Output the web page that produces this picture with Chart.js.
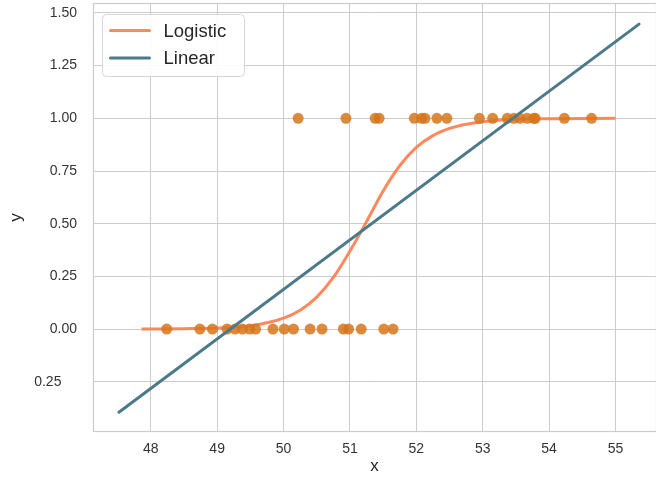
<!DOCTYPE html>
<html>
<head>
<meta charset="utf-8">
<script src="https://cdn.jsdelivr.net/npm/chart.js@4/dist/chart.umd.min.js"></script>
<style>
  html, body { margin: 0; padding: 0; background: #ffffff; }
  #wrap { width: 656px; height: 480px; }
</style>
</head>
<body>
<div id="wrap"><canvas id="c" width="656" height="480"></canvas></div>
<script>
// Axis ticks
const xTicks = [48, 49, 50, 51, 52, 53, 54, 55];
const yTicks = [-0.25, 0, 0.25, 0.5, 0.75, 1, 1.25, 1.5];

// Observations: x values of the samples in class 0 and class 1
const class0X = [48.24, 48.74, 48.93, 49.15, 49.27, 49.38, 49.49, 49.58, 49.84, 50.01,
                 50.15, 50.40, 50.58, 50.90, 50.98, 51.17, 51.51, 51.65];
const class1X = [50.22, 50.94, 51.38, 51.44, 51.97, 52.08, 52.13, 52.31, 52.46, 52.95,
                 53.15, 53.37, 53.47, 53.56, 53.67, 53.77, 53.79, 54.23, 54.64];

// Fitted logistic curve
const logisticX = [47.86, 48.5, 49.0, 49.5, 49.75, 50.0, 50.25, 50.5, 50.75, 51.0,
                   51.25, 51.5, 51.75, 52.0, 52.25, 52.5, 52.75, 53.0, 53.5, 54.0, 55.0];
const logisticY = [0.000, 0.002, 0.005, 0.016, 0.030, 0.052, 0.090, 0.152, 0.245, 0.370,
                   0.510, 0.655, 0.775, 0.862, 0.918, 0.952, 0.972, 0.984, 0.995, 0.998, 1.000];

// Fitted linear model (end points)
const linearX = [47.52, 55.355];
const linearY = [-0.394, 1.447];

const seriesNames = ['Logistic', 'Linear'];
const FONT = 'Liberation Sans, Arial, Helvetica, sans-serif';
const COL_LOGISTIC = 'rgba(255,127,80,0.92)';
const COL_LINEAR = '#4b7a8b';
const COL_POINTS = 'rgba(214,118,28,0.85)';

const toXY = (xs, ys) => xs.map((x, i) => ({ x: x, y: ys[i] }));
const observations = class0X.map(x => ({ x: x, y: 0 }))
  .concat(class1X.map(x => ({ x: x, y: 1 })));

// keep the plotting area fixed: no extra room reserved for overhanging labels
const noOverhang = s => {
  s.paddingTop = 0; s.paddingBottom = 0; s.paddingLeft = 0; s.paddingRight = 0;
};

// light grey frame around the plotting area
const frame = {
  id: 'frame',
  beforeDatasetsDraw(chart) {
    const { ctx, chartArea: a } = chart;
    ctx.save();
    ctx.strokeStyle = '#cccccc';
    ctx.lineWidth = 1.2;
    ctx.strokeRect(a.left + 0.5, a.top + 0.5, a.right - a.left, a.bottom - a.top - 1);
    ctx.restore();
  }
};

// legend box in the upper-left corner of the plot
const legendBox = {
  id: 'legendBox',
  afterDatasetsDraw(chart) {
    const { ctx, chartArea: a } = chart;
    const left = a.left + 9.5, top = a.top + 11.5, w = 142, h = 62, r = 4;
    ctx.save();
    ctx.beginPath();
    ctx.roundRect(left, top, w, h, r);
    ctx.fillStyle = 'rgba(255,255,255,0.9)';
    ctx.fill();
    ctx.strokeStyle = '#d6d6d6';
    ctx.lineWidth = 1;
    ctx.stroke();
    const items = [
      { label: seriesNames[0], color: COL_LOGISTIC, dy: 16 },
      { label: seriesNames[1], color: COL_LINEAR, dy: 43.5 }
    ];
    ctx.font = '18.5px ' + FONT;
    ctx.textBaseline = 'middle';
    ctx.textAlign = 'left';
    items.forEach(it => {
      ctx.beginPath();
      ctx.strokeStyle = it.color;
      ctx.lineWidth = 3;
      ctx.lineCap = 'round';
      ctx.moveTo(left + 8, top + it.dy);
      ctx.lineTo(left + 47, top + it.dy);
      ctx.stroke();
      ctx.fillStyle = '#262626';
      ctx.fillText(it.label, left + 61, top + it.dy + 1);
    });
    ctx.restore();
  }
};

new Chart(document.getElementById('c'), {
  type: 'scatter',
  data: {
    datasets: [
      {
        label: seriesNames[0],
        type: 'line',
        data: toXY(logisticX, logisticY),
        borderColor: COL_LOGISTIC,
        borderWidth: 3,
        pointRadius: 0,
        fill: false,
        cubicInterpolationMode: 'monotone',
        order: 2
      },
      {
        label: seriesNames[1],
        type: 'line',
        data: toXY(linearX, linearY),
        borderColor: COL_LINEAR,
        borderWidth: 3,
        borderCapStyle: 'round',
        pointRadius: 0,
        fill: false,
        order: 0
      },
      {
        label: 'data',
        data: observations,
        backgroundColor: COL_POINTS,
        borderWidth: 0,
        pointRadius: 5.5,
        order: 1
      }
    ]
  },
  options: {
    responsive: false,
    animation: false,
    devicePixelRatio: 1,
    layout: { autoPadding: false, padding: { top: 3, right: 0, bottom: 0, left: 0 } },
    plugins: { legend: { display: false }, tooltip: { enabled: false } },
    scales: {
      x: {
        type: 'linear',
        min: 47.13,
        max: 55.61,
        afterBuildTicks: s => { s.ticks = xTicks.map(v => ({ value: v })); },
        afterFit: s => { s.height = 48; noOverhang(s); },
        grid: { color: '#cccccc', lineWidth: 1, drawTicks: false },
        border: { display: false },
        ticks: {
          padding: 9,
          maxRotation: 0,
          autoSkip: false,
          color: '#333333',
          font: { family: FONT, size: 14 },
          callback: v => String(v)
        },
        title: {
          display: true,
          text: 'x',
          color: '#262626',
          font: { family: FONT, size: 17 },
          padding: { top: 0, bottom: 3 }
        }
      },
      y: {
        type: 'linear',
        min: -0.488,
        max: 1.547,
        afterBuildTicks: s => { s.ticks = yTicks.map(v => ({ value: v })); },
        afterFit: s => { s.width = 93; noOverhang(s); },
        grid: { color: '#cccccc', lineWidth: 1, drawTicks: false },
        border: { display: false },
        ticks: {
          padding: 16,
          autoSkip: false,
          color: '#333333',
          font: { family: FONT, size: 14 },
          callback: v => v < 0 ? Math.abs(v).toFixed(2) + '    ' : v.toFixed(2)
        },
        title: {
          display: true,
          text: 'y',
          color: '#262626',
          font: { family: FONT, size: 17 },
          padding: { top: 6, bottom: 0 }
        }
      }
    }
  },
  plugins: [frame, legendBox]
});
</script>
</body>
</html>
